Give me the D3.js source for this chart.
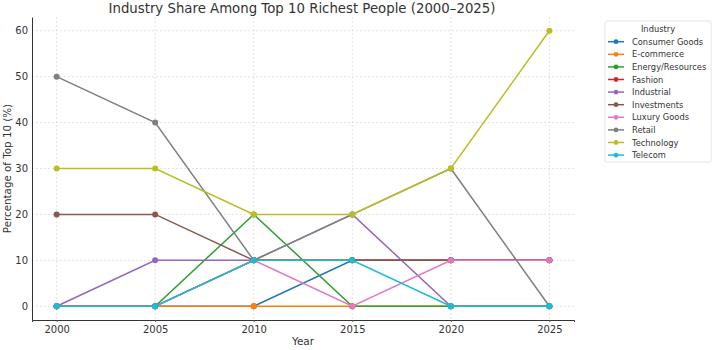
<!DOCTYPE html>
<html>
<head>
<meta charset="utf-8">
<script src="https://cdn.jsdelivr.net/npm/d3@7/dist/d3.min.js"></script>
<style>
  body { margin: 0; background: #fff; }
  svg { display: block; font-family: "DejaVu Sans", sans-serif; }
</style>
</head>
<body>
<svg id="chart" width="717" height="350"></svg>
<script>
// Years on the x axis
const years = [2000, 2005, 2010, 2015, 2020, 2025];

// Share of the top 10 (%) per industry, one value per year
const consumerGoods   = [0, 0, 0, 10, 10, 10];
const eCommerce       = [0, 0, 0, 0, 0, 0];
const energyResources = [0, 0, 20, 0, 0, 0];
const fashion         = [0, 0, 10, 10, 10, 10];
const industrial      = [0, 10, 10, 20, 0, 0];
const investments     = [20, 20, 10, 10, 10, 10];
const luxuryGoods     = [0, 0, 10, 0, 10, 10];
const retail          = [50, 40, 10, 20, 30, 0];
const technology      = [30, 30, 20, 20, 30, 60];
const telecom         = [0, 0, 10, 10, 0, 0];

const industryNames = ["Consumer Goods", "E-commerce", "Energy/Resources", "Fashion", "Industrial",
  "Investments", "Luxury Goods", "Retail", "Technology", "Telecom"];
const industryValues = [consumerGoods, eCommerce, energyResources, fashion, industrial,
  investments, luxuryGoods, retail, technology, telecom];
const industryColors = ["#1f77b4", "#ff7f0e", "#2ca02c", "#d62728", "#9467bd",
  "#8c564b", "#e377c2", "#7f7f7f", "#bcbd22", "#17becf"];

const yTicks = [0, 10, 20, 30, 40, 50, 60];

const series = industryNames.map((name, i) => ({
  name,
  color: industryColors[i],
  points: years.map((y, j) => ({ year: y, value: industryValues[i][j] }))
}));

const svg = d3.select("#chart");
const textColor = "#333";
const plot = { left: 32, right: 574, top: 17, bottom: 320 };

const x = d3.scaleLinear().domain([1998.75, 2026.25]).range([plot.left, plot.right]);
const y = d3.scaleLinear().domain([-3, 63]).range([plot.bottom, plot.top]);

// Dotted grid
const grid = svg.append("g");
grid.selectAll("line.vx").data(years).join("line")
  .attr("x1", d => x(d)).attr("x2", d => x(d))
  .attr("y1", plot.top).attr("y2", plot.bottom)
  .attr("stroke", "#dcdcdc").attr("stroke-width", 0.8).attr("stroke-dasharray", "2,2");
grid.selectAll("line.hy").data(yTicks).join("line")
  .attr("x1", plot.left).attr("x2", plot.right)
  .attr("y1", d => y(d)).attr("y2", d => y(d))
  .attr("stroke", "#dcdcdc").attr("stroke-width", 0.8).attr("stroke-dasharray", "2,2");

// Axes
const xAxis = svg.append("g")
  .attr("transform", `translate(0,${plot.bottom})`)
  .call(d3.axisBottom(x).tickValues(years).tickFormat(d3.format("d")).tickSize(2).tickPadding(4));
const yAxis = svg.append("g")
  .attr("transform", `translate(${plot.left},0)`)
  .call(d3.axisLeft(y).tickValues(yTicks).tickSize(0).tickPadding(4));
[xAxis, yAxis].forEach(a => {
  a.select(".domain").attr("stroke", "#333").attr("stroke-width", 1);
  a.selectAll(".tick line").attr("stroke", "#555");
  a.selectAll(".tick text").attr("fill", textColor).attr("font-size", 10)
    .attr("font-family", "DejaVu Sans, sans-serif");
});

// Lines and markers
const line = d3.line().x(d => x(d.year)).y(d => y(d.value));
const layer = svg.append("g");
series.forEach(s => {
  const g = layer.append("g");
  g.append("path").datum(s.points)
    .attr("d", line).attr("fill", "none")
    .attr("stroke", s.color).attr("stroke-width", 1.5);
  g.selectAll("circle").data(s.points).join("circle")
    .attr("cx", d => x(d.year)).attr("cy", d => y(d.value))
    .attr("r", 3).attr("fill", s.color);
});

// Title and axis labels
svg.append("text").attr("x", 302).attr("y", 13)
  .attr("text-anchor", "middle").attr("font-size", 13.3).attr("fill", textColor)
  .text("Industry Share Among Top 10 Richest People (2000–2025)");
svg.append("text").attr("x", (plot.left + plot.right) / 2).attr("y", 345)
  .attr("text-anchor", "middle").attr("font-size", 10.5).attr("fill", textColor)
  .text("Year");
svg.append("text")
  .attr("transform", `translate(11,${(plot.top + plot.bottom) / 2}) rotate(-90)`)
  .attr("text-anchor", "middle").attr("font-size", 10.3).attr("fill", textColor)
  .text("Percentage of Top 10 (%)");

// Legend
const legend = svg.append("g").attr("transform", "translate(605,21)");
legend.append("rect").attr("x", 0).attr("y", 0).attr("width", 106).attr("height", 141)
  .attr("rx", 2).attr("fill", "#fff").attr("stroke", "#ddd").attr("stroke-width", 0.8);
legend.append("text").attr("x", 53).attr("y", 10.5)
  .attr("text-anchor", "middle").attr("font-size", 8.3).attr("fill", textColor).text("Industry");
const items = legend.selectAll("g.item").data(series).join("g")
  .attr("transform", (d, i) => `translate(0,${20.7 + i * 12.6})`);
items.append("line").attr("x1", 3).attr("x2", 19).attr("y1", 0).attr("y2", 0)
  .attr("stroke", d => d.color).attr("stroke-width", 1.5);
items.append("circle").attr("cx", 11).attr("cy", 0).attr("r", 2.4).attr("fill", d => d.color);
items.append("text").attr("x", 27).attr("y", 3).attr("font-size", 8.3).attr("fill", textColor)
  .text(d => d.name);
</script>
</body>
</html>
